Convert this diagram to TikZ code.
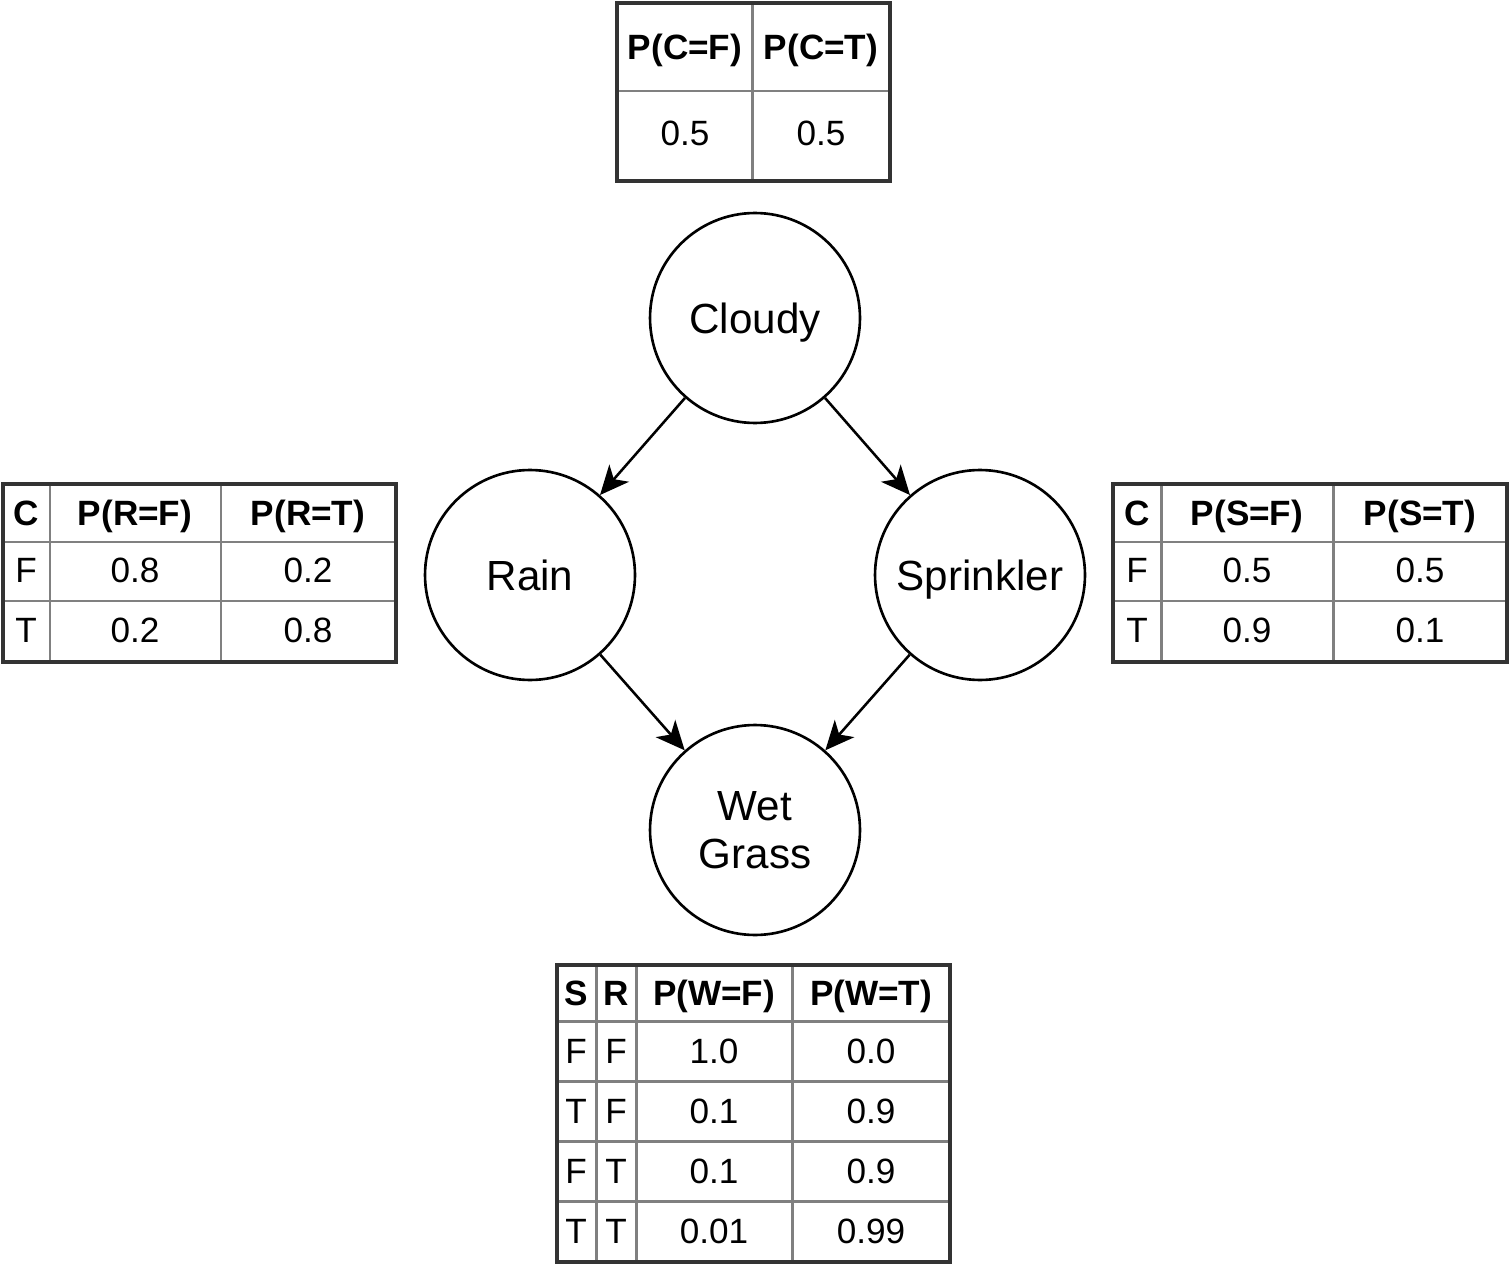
\documentclass[tikz,border=0pt]{standalone}
\usepackage{fontspec}
\setmainfont{Liberation Sans}
\usetikzlibrary{arrows.meta, positioning}

\begin{document}
\begin{tikzpicture}[
    x=0.02cm, y=-0.02cm,
    var/.style={circle, draw, line width=1.5pt, minimum size=4.2cm, inner sep=0pt, text depth=0pt, align=center, font=\fontsize{24}{27.5}\selectfont},
    arrow/.style={-{Stealth[length=0.58cm, width=0.52cm, inset=0.16cm]}, line width=1.45pt},
    cell/.style={inner sep=0pt, text height=0.5cm, text depth=0cm, font=\fontsize{20}{24}\selectfont},
    head/.style={cell, font=\fontsize{20}{24}\selectfont\bfseries},
    grid/.style={draw=black!50, line width=1.7pt},
    frame/.style={draw=black!80, line width=2.3pt}
]
\useasboundingbox (0,0) rectangle (1510,1270);

% network
\node[var] (cloudy) at (755,318) {Cloudy};
\node[var] (rain) at (530,575) {Rain};
\node[var] (sprinkler) at (980,575) {Sprinkler};
\node[var] (wet) at (755,830) {Wet\\Grass};

\draw[arrow] (cloudy) -- (rain);
\draw[arrow] (cloudy) -- (sprinkler);
\draw[arrow] (rain) -- (wet);
\draw[arrow] (sprinkler) -- (wet);

% P(C)
\draw[grid] (752,3) -- (752,181) (617,91) -- (890,91);
\draw[frame] (617,3) rectangle (890,181);
\node[head] (cf) at (685,47) {P(C=F)};
\node[head] (ct) at (821,47) {P(C=T)};
\node[cell] (cfv) at (685,133) {0.5};
\node[cell] (ctv) at (821,133) {0.5};

% P(R|C)
\draw[grid] (50,484) -- (50,662) (221,484) -- (221,662)
            (3,542) -- (396,542) (3,601) -- (396,601);
\draw[frame] (3,484) rectangle (396,662);
\node[head] (rc) at (26,513) {C};
\node[head] (rf) at (135,513) {P(R=F)};
\node[head] (rt) at (308,513) {P(R=T)};
\foreach \c/\pf/\pt [count=\i] in {F/0.8/0.2, T/0.2/0.8} {
    \node[cell] (rc\i) at (26,510+60*\i) {\c};
    \node[cell] (rf\i) at (135,510+60*\i) {\pf};
    \node[cell] (rt\i) at (308,510+60*\i) {\pt};
}

% P(S|C)
\draw[grid] (1161,484) -- (1161,662) (1333,484) -- (1333,662)
            (1113,542) -- (1507,542) (1113,601) -- (1507,601);
\draw[frame] (1113,484) rectangle (1507,662);
\node[head] (sc) at (1137,513) {C};
\node[head] (sf) at (1247,513) {P(S=F)};
\node[head] (st) at (1420,513) {P(S=T)};
\foreach \c/\pf/\pt [count=\i] in {F/0.5/0.5, T/0.9/0.1} {
    \node[cell] (sc\i) at (1137,510+60*\i) {\c};
    \node[cell] (sf\i) at (1247,510+60*\i) {\pf};
    \node[cell] (st\i) at (1420,510+60*\i) {\pt};
}

% P(W|S,R)
\draw[grid] (596,965) -- (596,1262) (636,965) -- (636,1262) (792,965) -- (792,1262);
\foreach \y in {1021,1081,1141,1201}
    \draw[grid] (557,\y) -- (950,\y);
\draw[frame] (557,965) rectangle (950,1262);
\node[head] (ws) at (576,993) {S};
\node[head] (wr) at (616,993) {R};
\node[head] (wf) at (714,993) {P(W=F)};
\node[head] (wt) at (871,993) {P(W=T)};
\foreach \s/\r/\pf/\pt [count=\i] in {F/F/1.0/0.0, T/F/0.1/0.9, F/T/0.1/0.9, T/T/0.01/0.99} {
    \node[cell] (ws\i) at (576,991+60*\i) {\s};
    \node[cell] (wr\i) at (616,991+60*\i) {\r};
    \node[cell] (wf\i) at (714,991+60*\i) {\pf};
    \node[cell] (wt\i) at (871,991+60*\i) {\pt};
}

\end{tikzpicture}
\end{document}
